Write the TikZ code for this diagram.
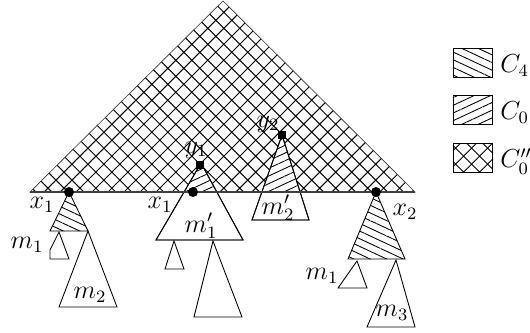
\documentclass[tikz,border=0pt]{standalone}
\usetikzlibrary{patterns.meta}
\begin{document}
\begin{tikzpicture}[x=0.46pt,y=-0.46pt,font=\fontsize{12}{14}\selectfont]
  \tikzset{
    tree/.style={draw,fill=white,line join=miter},
    crossfill/.style={pattern={Hatch[angle=45,distance=5.2pt,line width=0.45pt]}},
    downfill/.style={pattern={Lines[angle=-25,distance=3.2pt,line width=0.4pt]}},
    upfill/.style={pattern={Lines[angle=25,distance=3.2pt,line width=0.4pt]}},
    lbl/.style={inner sep=0pt},
    rootdot/.style={fill,circle,inner sep=0pt,minimum size=4.6pt},
    rootsq/.style={fill,rectangle,inner sep=0pt,minimum size=3.8pt},
    keybox/.style={draw,inner sep=0pt,minimum width=18pt,minimum height=13.3pt},
  }
  \useasboundingbox (0,0) rectangle (530,332);
  % ---- top part ----
  \coordinate (top) at (223,1);
  \coordinate (baseL) at (30,192);
  \coordinate (baseR) at (415,192);
  \draw[crossfill,draw=black!80,line width=0.3pt] (top) -- (baseR) -- (baseL) -- cycle;
  % ---- left: x1 ----
  \coordinate (x1a) at (69,192);
  \draw[tree,downfill] (x1a) -- (88,231) -- (50,231) -- cycle;
  \draw[tree] (59,232) -- (50,250) -- (50,259) -- (69,259) -- cycle;
  \draw[tree] (88,231) -- (117,307) -- (59,307) -- cycle;
  % ---- middle: y1, y2 ----
  \coordinate (y1) at (200,165);
  \coordinate (y2) at (282,135);
  \draw[tree] (201,163) -- (243,240) -- (156,240) -- cycle;
  \draw[tree] (y2) -- (309,220) -- (252,220) -- cycle;
  \begin{scope}
    \clip (0,0) rectangle (530,192);
    \fill[upfill] (201,163) -- (243,240) -- (156,240) -- cycle;
    \fill[upfill] (y2) -- (309,220) -- (252,220) -- cycle;
  \end{scope}
  \draw (201,163) -- (243,240) -- (156,240) -- cycle;
  \draw (y2) -- (309,220) -- (252,220) -- cycle;
  \draw[tree] (174,241) -- (184,269) -- (165,269) -- cycle;
  \draw[tree] (213,241) -- (242,317) -- (194,317) -- cycle;
  % ---- right: x2 ----
  \coordinate (x2) at (376,192);
  \draw[tree,downfill] (x2) -- (405,259) -- (348,259) -- cycle;
  \draw[tree] (357,261) -- (367,288) -- (338,288) -- cycle;
  \draw[tree] (396,260) -- (415,327) -- (367,327) -- cycle;
  % ---- base line and roots ----
  \draw[black!75,line width=0.8pt] (baseL) -- (baseR);
  \node[rootdot] (dotA) at (x1a) {};
  \node[rootdot] (dotB) at (193,192) {};
  \node[rootdot] (dotC) at (x2) {};
  \node[rootsq] (sqA) at (y1) {};
  \node[rootsq] (sqB) at (y2) {};
  % ---- labels ----
  \node[lbl] (lx1a) at (42,205) {$x_1$};
  \node[lbl] (lm1a) at (27,245) {$m_1$};
  \node[lbl] (lm2) at (90,295) {$m_2$};
  \node[lbl] (lx1b) at (160,205) {$x_1$};
  \node[lbl] (ly1) at (196,150) {$y_1$};
  \node[lbl] (lm1p) at (201,226) {$m_1'$};
  \node[lbl] (ly2) at (268,124) {$y_2$};
  \node[lbl] (lm2p) at (278,208) {$m_2'$};
  \node[lbl] (lx2) at (405,212) {$x_2$};
  \node[lbl] (lm1b) at (322,276) {$m_1$};
  \node[lbl] (lm3) at (392,313) {$m_3$};
  % ---- legend ----
  \node[keybox,downfill] (keyA) at (472.5,62.5) {};
  \node[keybox,upfill] (keyB) at (472.5,110) {};
  \node[keybox,crossfill] (keyC) at (472.5,158) {};
  \node[lbl,anchor=base west] (tkeyA) at (500,73) {$C_4$};
  \node[lbl,anchor=base west] (tkeyB) at (500,120) {$C_0$};
  \node[lbl,anchor=base west] (tkeyC) at (500,168) {$C_0''$};
\end{tikzpicture}
\end{document}
